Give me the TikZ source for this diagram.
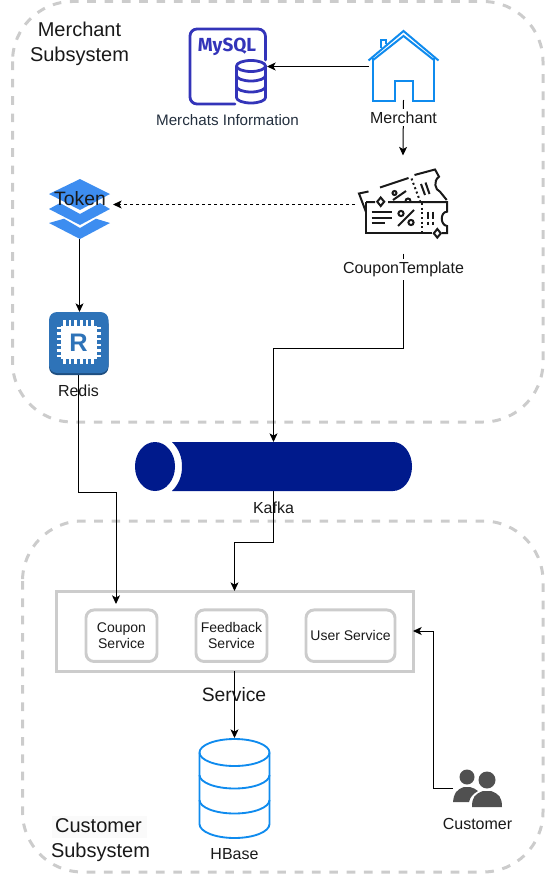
\documentclass[tikz,border=0pt]{standalone}
\usepackage{fontspec}
\setmainfont{Liberation Sans}
\newfontfamily\mysqlfont{Fira Sans}[UprightFont=* Bold]
\usetikzlibrary{arrows.meta,calc}
\definecolor{grayline}{HTML}{CCCCCC}
\definecolor{iconblue}{HTML}{0F8BEE}
\definecolor{sqlblue}{HTML}{3334B9}
\definecolor{tokenblue}{HTML}{3D8DF0}
\definecolor{redisblue}{HTML}{2E73B8}
\definecolor{redisdark}{HTML}{1E4E80}
\definecolor{kafkablue}{HTML}{001A8C}
\definecolor{personfill}{HTML}{505050}
\definecolor{awsdark}{HTML}{232F3E}
\tikzset{
  hit/.style 2 args={minimum width=#1*0.75pt, minimum height=#2*0.75pt, inner sep=0pt, outer sep=0pt},
  zone/.style={draw=grayline, line width=2.25pt, dash pattern=on 6.5pt off 6.5pt, rounded corners=45pt},
  conn/.style={draw=black, line width=0.75pt, -{Stealth[length=6.5pt,width=6pt,inset=1.7pt]}},
  lbl/.style={font=\fontsize{12}{14}\selectfont, inner sep=1pt, text=black!90},
  titlelbl/.style={font=\fontsize{15}{18.6}\selectfont, align=center, inner sep=1pt, text=black!90},
  sublbl/.style={draw=grayline, line width=2.2pt, rounded corners=6pt, align=center,
     font=\fontsize{10.5}{12.2}\selectfont, inner sep=0pt, text=black!90},
  ticket/.style={draw=black!90, line width=1.5pt},
  chipc/.style={draw=white, line width=1.9pt}
}
\begin{document}
\begin{tikzpicture}[x=0.75pt,y=-0.75pt]
\useasboundingbox (0,0) rectangle (545,874);
% zones
\draw[zone] (12.5,1.5) rectangle (543,422);
\draw[zone] (22.5,521) rectangle (543,872);

% anchor nodes of the icons
\node[hit={78}{77}] (mysql) at (228,66.5) {};
\node[hit={69}{70}] (house) at (403.5,65) {};
\node[hit={96}{98}] (coupon) at (403,204.5) {};
\node[hit={61}{59}] (token) at (79.5,209.5) {};
\node[hit={59}{63}] (redis) at (78.5,343.5) {};
\node[hit={277}{49}] (kafka) at (273.5,466.5) {};
\node[hit={71}{100}] (hbase) at (234.5,788) {};
\node[hit={50}{39}] (customer) at (478,788) {};
\node[draw=grayline, line width=2.25pt, hit={357}{80}] (service) at (234.5,631) {};
\coordinate (couponin) at (116,604);

% connectors
\draw[conn] (house.west |- mysql.east) -- (mysql.east);
\draw[conn] (house.south) -- (coupon.north);
\draw[conn, dash pattern=on 2.25pt off 2.25pt] (coupon.west) -- ([xshift=2.25pt]token.east |- coupon.west);
\draw[conn] (coupon.south) -- ++(0,95) -| (kafka.north);
\draw[conn] (token.south) -- (token.south |- redis.north);
\draw[conn] (redis.south) -- ++(0,117) -| (couponin);
\draw[conn] (kafka.south) -- ++(0,51) -| (service.north);
\draw[conn] (service.south) -- (hbase.north);
\draw[conn] (customer.west) -- ++(-20,0) |- (service.east);

% MySQL icon
\begin{scope}[draw=sqlblue, line width=2.1pt, line cap=round]
\draw (235,104) -- (197,104) arc[start angle=90,end angle=180,radius=7] -- (190,36) arc[start angle=180,end angle=270,radius=7] -- (258,29) arc[start angle=270,end angle=360,radius=7.5] -- (265.5,60);
\draw (236.5,66) arc[start angle=180,end angle=540,x radius=14.5,y radius=5.5];
\draw (236.5,66) -- (236.5,97.5) arc[start angle=180,end angle=0,x radius=14.5,y radius=5.5] -- (265.5,66);
\draw (236.5,75.5) arc[start angle=180,end angle=0,x radius=14.5,y radius=5.5];
\draw (236.5,86.5) arc[start angle=180,end angle=0,x radius=14.5,y radius=5.5];
\end{scope}
\node[text=sqlblue, font=\mysqlfont\fontsize{14.2}{16}\selectfont, inner sep=0pt] (mysqlword) at (227,47) {MySQL};
\node[lbl, text=awsdark, font=\fontsize{11.4}{14}\selectfont] (mysqllbl) at (227.5,120.5) {Merchats Information};

% house icon
\begin{scope}[draw=iconblue, line width=1.5pt, line join=miter]
\draw (368.5,60.5) -- (403.5,31) -- (438.5,60.5);
\draw (372.5,60.5) -- (403.5,36) -- (434.5,60.5) ;
\draw (373,58) -- (373,101) -- (395,101) -- (395,81) -- (412.5,81) -- (412.5,101) -- (434,101) -- (434,58);
\draw (380.7,48) -- (380.7,40) -- (386,40) -- (386,44);
\end{scope}
\node[lbl, fill=white, inner sep=2pt] (merchantlbl) at (403.5,117.5) {Merchant};

% coupon icon
\begin{scope}[ticket]
% back ticket
\draw (366,212) -- (359,193.5) -- (368.5,191.5);
\draw (380,187.5) -- (408.5,178);
\draw (414.5,175) -- (435,169.5) -- (439,176.7) .. controls (433,181) and (435,190) .. (440,191.7) -- (446.7,200);
\draw[dotted] (411.5,178.5) -- (420,201);
\draw (421,184) -- (425,195);
\draw (425.5,182.5) -- (429.5,194);
\draw (393,200) -- (406,191);
\draw (394.5,193) circle[radius=2];
\draw (405.5,201) arc[start angle=180,end angle=360,radius=2.5];
% front ticket
\draw (366,202) -- (375,202) (388,202) -- (447,202) -- (447,211.7) .. controls (440,212) and (440,225) .. (447,226) -- (447,233) -- (441.5,233);
\draw (366,202) -- (366,233) -- (431.7,233);
\draw[dotted] (421.7,203) -- (421.7,232);
\draw (371.7,212.3) -- (391.7,212.3) (371.7,217.7) -- (391.7,217.7) (371.7,222.7) -- (385,222.7);
\draw (398,226) -- (414,210);
\draw (401,213.5) circle[radius=2.6];
\draw (411,222.5) circle[radius=2.6];
\draw (428,211.7) -- (428,218.5) (432.5,211.7) -- (432.5,218.5) (428,221.7) -- (428,225) (432.5,221.7) -- (432.5,225);
\draw[fill=white] (380.7,197.5) -- (384.2,201.7) -- (380.7,206) -- (377.2,201.7) -- cycle;
\draw[fill=white] (437.3,229) -- (440.8,233.3) -- (437.3,237.6) -- (433.8,233.3) -- cycle;
\end{scope}
\node[lbl, fill=white, inner sep=2pt] (couponlbl) at (403.5,269.5) {CouponTemplate};

% token icon
\fill[tokenblue] (80,179) -- (110,194) -- (80,210) -- (49,194) -- cycle;
\fill[tokenblue] (49,209) -- (60,203) -- (80,214) -- (100,203) -- (110,209) -- (80,225) -- cycle;
\fill[tokenblue] (49,223) -- (64,218.7) -- (80,228) -- (96,218.7) -- (110,223) -- (80,239) -- cycle;
\node[lbl, font=\fontsize{14.5}{16}\selectfont, inner sep=0pt] (tokenlbl) at (80,198.5) {Token};

% redis icon
\fill[redisdark, rounded corners=6pt] (49,316) rectangle (108.5,375);
\fill[redisblue, rounded corners=6pt] (49,312) rectangle (108.5,373);
\foreach \i in {0,...,5} {
  \draw[chipc] (64.5+\i*5.6,320) -- (64.5+\i*5.6,364);
  \draw[chipc] (56.7,328+\i*5.6) -- (101,328+\i*5.6);
}
\fill[white] (61,325.5) rectangle (97,358.5);
\node[text=redisblue, font=\bfseries\fontsize{19}{19}\selectfont, inner sep=0pt] (redisr) at (78.5,343) {R};
\node[lbl] (redislbl) at (78.5,390.5) {Redis};

% kafka icon
\fill[kafkablue] (172,442) -- (393,442) arc[start angle=-90,end angle=90,x radius=19,y radius=24.5] -- (172,491) .. controls (179,484) and (182,476) .. (182,466.5) .. controls (182,457) and (179,449) .. (172,442) -- cycle;
\fill[kafkablue] (155,466.5) ellipse[x radius=20,y radius=24.5];
\node[lbl] (kafkalbl) at (273.5,507.5) {Kafka};

% services
\node[sublbl, hit={71}{51.5}] (couponsvc) at (121.5,635.7) {Coupon\\Service};
\node[sublbl, hit={71}{51.5}] (feedbacksvc) at (231.5,635.7) {Feedback\\Service};
\node[sublbl, hit={89}{51.5}] (usersvc) at (350.5,635.7) {User Service};
\node[lbl, font=\fontsize{14.5}{16}\selectfont] (servicelbl) at (234,695) {Service};

% hbase icon
\begin{scope}[draw=iconblue, line width=1.4pt]
\draw (199.5,752.5) arc[start angle=180,end angle=540,x radius=35,y radius=13.5];
\draw (199.5,752.5) -- (199.5,824) arc[start angle=180,end angle=0,x radius=35,y radius=14] -- (269.5,752.5);
\draw (199.5,775) arc[start angle=180,end angle=0,x radius=35,y radius=13.5];
\draw (199.5,800) arc[start angle=180,end angle=0,x radius=35,y radius=13.5];
\end{scope}
\node[lbl] (hbaselbl) at (234.5,854.5) {HBase};

% customer icon
\fill[personfill] (467,777) circle[radius=7.5];
\fill[personfill] (453,802) .. controls (454,793) and (456,790) .. (464,787) -- (470,787) .. controls (473,788) and (476,789) .. (478,791) .. controls (473,794) and (470,797) .. (469,802) -- cycle;
\fill[personfill] (487,780) circle[radius=8.5];
\fill[personfill] (472,807) .. controls (472,797) and (475,794) .. (483,791) -- (491,791) .. controls (499,794) and (502,797) .. (502,807) -- cycle;
\node[lbl] (customerlbl) at (477.5,823.5) {Customer};

% zone titles
\node[titlelbl] (merchanttitle) at (79.5,43.5) {Merchant\\Subsystem};
\fill[black!2] (52,816) rectangle (147,838);
\node[titlelbl] (customertitle) at (100.5,840) {\hspace*{-3pt}Customer\\Subsystem};
\end{tikzpicture}
\end{document}
